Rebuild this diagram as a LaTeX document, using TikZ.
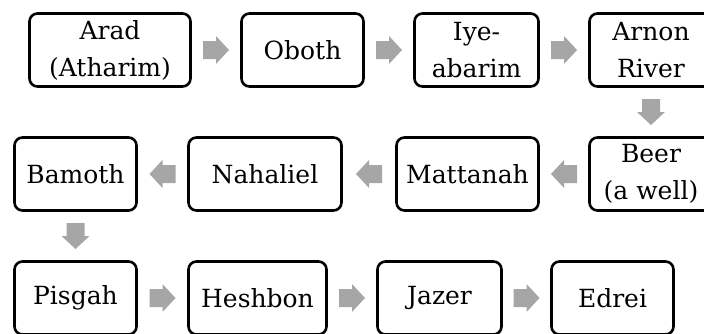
\documentclass[tikz,border=0pt]{standalone}
\usepackage{fontspec}
\setmainfont{DejaVu Serif}
\usetikzlibrary{calc}
\definecolor{arrowgray}{HTML}{A6A6A6}
\tikzset{
  place/.style={draw=black, line width=2.6pt, rounded corners=8pt, fill=white,
    minimum height=73pt, inner sep=0pt, align=center,
    font=\fontsize{25}{37}\selectfont},
  barr/.pic={\fill[arrowgray] (-13,-9) -- (0,-9) -- (0,-14) -- (13,0) -- (0,14) -- (0,9) -- (-13,9) -- cycle;}
}
\begin{document}
\begin{tikzpicture}[x=1pt,y=1pt]
\useasboundingbox (0,0) rectangle (704,333);
% row 1
\node[place, minimum width=161pt] (arad) at (110,283) {Arad\\(Atharim)};
\node[place, minimum width=122pt] (oboth) at (302.5,283) {Oboth};
\node[place, minimum width=124pt] (iye) at (476.5,283) {Iye-\\abarim};
\node[place, minimum width=123pt] (arnon) at (651,283) {Arnon\\River};
% row 2
\node[place, minimum width=123pt] (beer) at (651,159) {Beer\\(a well)};
\node[place, minimum width=142pt] (mattanah) at (467.5,159) {Mattanah};
\node[place, minimum width=153pt] (nahaliel) at (265,159) {Nahaliel};
\node[place, minimum width=122pt] (bamoth) at (75.5,159) {Bamoth};
% row 3
\node[place, minimum width=122pt] (pisgah) at (75.5,35) {Pisgah};
\node[place, minimum width=138pt] (heshbon) at (257.5,35) {Heshbon};
\node[place, minimum width=124pt] (jazer) at (439.5,35) {Jazer};
\node[place, minimum width=122pt] (edrei) at (612.5,35) {Edrei};
% arrows
\pic at ($(arad.east)!0.5!(oboth.west)$) {barr};
\pic at ($(oboth.east)!0.5!(iye.west)$) {barr};
\pic at ($(iye.east)!0.5!(arnon.west)$) {barr};
\pic[rotate=-90] at ($(arnon.south)!0.5!(beer.north)$) {barr};
\pic[rotate=180] at ($(beer.west)!0.5!(mattanah.east)$) {barr};
\pic[rotate=180] at ($(mattanah.west)!0.5!(nahaliel.east)$) {barr};
\pic[rotate=180] at ($(nahaliel.west)!0.5!(bamoth.east)$) {barr};
\pic[rotate=-90] at ($(bamoth.south)!0.5!(pisgah.north)$) {barr};
\pic at ($(pisgah.east)!0.5!(heshbon.west)$) {barr};
\pic at ($(heshbon.east)!0.5!(jazer.west)$) {barr};
\pic at ($(jazer.east)!0.5!(edrei.west)$) {barr};
\end{tikzpicture}
\end{document}
